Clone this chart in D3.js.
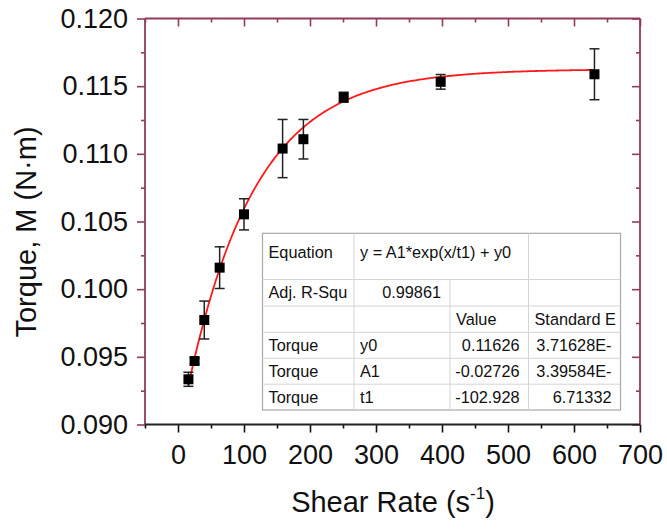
<!DOCTYPE html>
<html>
<head>
<meta charset="utf-8">
<script src="https://cdn.jsdelivr.net/npm/d3@7"></script>
<style>
  body { margin: 0; background: #fff; }
  svg { display: block; font-family: "Liberation Sans", Arial, sans-serif; }
</style>
</head>
<body>
<svg id="chart" width="667" height="529"></svg>
<script>
// measured points (shear rate, torque, error)
const shearRate = [15.8, 25.1, 39.8, 63.1, 100, 158.5, 190, 251, 398, 631]
const torque = [0.09334, 0.09469, 0.09772, 0.10159, 0.10553, 0.11039, 0.11108, 0.11418, 0.11532, 0.11588]
const torqueErr = [0.00052, 0.0002, 0.0014, 0.00154, 0.00115, 0.00215, 0.00146, 0.00037, 0.00054, 0.00188]

// fit result shown in the table
const fitNames = ['y0', 'A1', 't1']
const fitValues = [0.11626, -0.02726, -102.928]
const fitErrors = ['3.71628E-', '3.39584E-', '6.71332']
const fitValueLabels = ['0.11626', '-0.02726', '-102.928']

const xTicks = [0, 100, 200, 300, 400, 500, 600, 700]
const xMinor = [-50, 50, 150, 250, 350, 450, 550, 650]
const yTicks = [0.090, 0.095, 0.100, 0.105, 0.110, 0.115, 0.120]
const yMinor = [0.0925, 0.0975, 0.1025, 0.1075, 0.1125, 0.1175]

const frameColor = '#8f3c5c'
const svg = d3.select('#chart')

const x = d3.scaleLinear().domain([-50, 700]).range([145, 640])
const y = d3.scaleLinear().domain([0.090, 0.120]).range([424.5, 18.5])

const pLeft = x.range()[0]
const pRight = x.range()[1]
const pTop = y.range()[1]
const pBottom = y.range()[0]

// frame axes
function styleAxis (g, color) {
  g.select('.domain').remove()
  g.selectAll('.tick line').attr('stroke', color).attr('stroke-width', 1.6)
  g.selectAll('text').remove()
}

svg.append('g').attr('transform', 'translate(0,' + pTop + ')')
  .call(d3.axisBottom(x).tickValues(xTicks).tickSize(8))
  .call(g => styleAxis(g, frameColor))
svg.append('g').attr('transform', 'translate(0,' + pTop + ')')
  .call(d3.axisBottom(x).tickValues(xMinor).tickSize(4))
  .call(g => styleAxis(g, frameColor))
svg.append('g').attr('transform', 'translate(' + pRight + ',0)')
  .call(d3.axisLeft(y).tickValues(yTicks).tickSize(8))
  .call(g => styleAxis(g, frameColor))
svg.append('g').attr('transform', 'translate(' + pRight + ',0)')
  .call(d3.axisLeft(y).tickValues(yMinor).tickSize(4))
  .call(g => styleAxis(g, frameColor))

// left axis (outward ticks, labels)
const yAxis = svg.append('g').attr('transform', 'translate(' + pLeft + ',0)')
  .call(d3.axisLeft(y).tickValues(yTicks).tickSize(8).tickPadding(9).tickFormat(d3.format('.3f')))
yAxis.select('.domain').remove()
yAxis.selectAll('.tick line').attr('stroke', frameColor).attr('stroke-width', 1.6)
yAxis.selectAll('text').attr('font-size', 27).attr('fill', '#111').attr('font-family', '"Liberation Sans", Arial, sans-serif')
svg.append('g').attr('transform', 'translate(' + pLeft + ',0)')
  .call(d3.axisLeft(y).tickValues(yMinor).tickSize(4))
  .call(g => styleAxis(g, frameColor))

// bottom axis
const xAxis = svg.append('g').attr('transform', 'translate(0,' + pBottom + ')')
  .call(d3.axisBottom(x).tickValues(xTicks).tickSize(8).tickPadding(12))
xAxis.select('.domain').remove()
xAxis.selectAll('.tick line').attr('stroke', '#111').attr('stroke-width', 1.6)
xAxis.selectAll('text').attr('font-size', 27).attr('fill', '#111').attr('font-family', '"Liberation Sans", Arial, sans-serif')
svg.append('g').attr('transform', 'translate(0,' + pBottom + ')')
  .call(d3.axisBottom(x).tickValues(xMinor).tickSize(4))
  .call(g => styleAxis(g, '#111'))

// frame lines
svg.append('line').attr('x1', pLeft).attr('x2', pLeft).attr('y1', pTop).attr('y2', pBottom)
  .attr('stroke', frameColor).attr('stroke-width', 1.8)
svg.append('line').attr('x1', pRight).attr('x2', pRight).attr('y1', pTop).attr('y2', pBottom)
  .attr('stroke', frameColor).attr('stroke-width', 1.8)
svg.append('line').attr('x1', pLeft).attr('x2', pRight).attr('y1', pTop).attr('y2', pTop)
  .attr('stroke', frameColor).attr('stroke-width', 1.8)
svg.append('line').attr('x1', pLeft).attr('x2', pRight).attr('y1', pBottom).attr('y2', pBottom)
  .attr('stroke', '#222').attr('stroke-width', 1.8)

// fit table
const colX = [262.5, 354, 450, 528.5, 620.5]
const rowY = [233.3, 279.5, 306, 332.3, 358.3, 384.2, 410]
const tbl = svg.append('g').attr('font-size', 16.3).attr('fill', '#111')
tbl.append('rect').attr('x', colX[0]).attr('y', rowY[0])
  .attr('width', colX[4] - colX[0]).attr('height', rowY[6] - rowY[0])
  .attr('fill', '#fff').attr('stroke', '#a8a8a8').attr('stroke-width', 1.2)
rowY.slice(1, 6).forEach(ry => {
  tbl.append('line').attr('x1', colX[0]).attr('x2', colX[4]).attr('y1', ry).attr('y2', ry)
    .attr('stroke', '#d4d4d4')
})
tbl.append('line').attr('x1', colX[1]).attr('x2', colX[1]).attr('y1', rowY[0]).attr('y2', rowY[6]).attr('stroke', '#d4d4d4')
tbl.append('line').attr('x1', colX[2]).attr('x2', colX[2]).attr('y1', rowY[1]).attr('y2', rowY[6]).attr('stroke', '#d4d4d4')
tbl.append('line').attr('x1', colX[3]).attr('x2', colX[3]).attr('y1', rowY[0]).attr('y2', rowY[6]).attr('stroke', '#d4d4d4')

function cell (col, row, txt, align, dy) {
  const t = tbl.append('text').text(txt)
  if (align === 'end') {
    t.attr('x', colX[col + 1] - 9).attr('text-anchor', 'end')
  } else {
    t.attr('x', colX[col] + 6)
  }
  t.attr('y', dy !== undefined ? rowY[row] + dy : (rowY[row] + rowY[row + 1]) / 2 + 5.5)
}
cell(0, 0, 'Equation', 'start', 25)
cell(1, 0, 'y = A1*exp(x/t1) + y0', 'start', 25)
cell(0, 1, 'Adj. R-Squ')
cell(1, 1, '0.99861', 'end')
cell(2, 2, 'Value')
cell(3, 2, 'Standard E')
fitNames.forEach((n, i) => {
  cell(0, 3 + i, 'Torque')
  cell(1, 3 + i, n)
  cell(2, 3 + i, fitValueLabels[i], 'end')
  cell(3, 3 + i, fitErrors[i], 'end')
})

// fit curve y = A1*exp(x/t1) + y0 over the measured range
const [y0, A1, t1] = fitValues
const fitX = d3.range(shearRate[0], shearRate[shearRate.length - 1], 2).concat([shearRate[shearRate.length - 1]])
svg.append('path')
  .attr('d', d3.line().x(d => x(d)).y(d => y(A1 * Math.exp(d / t1) + y0))(fitX))
  .attr('fill', 'none').attr('stroke', '#ff1a1a').attr('stroke-width', 1.8)

// error bars and markers
const pts = svg.append('g')
shearRate.forEach((sr, i) => {
  const cx = x(sr)
  const yt = y(torque[i] + torqueErr[i])
  const yb = y(torque[i] - torqueErr[i])
  pts.append('line').attr('x1', cx).attr('x2', cx).attr('y1', yt).attr('y2', yb)
    .attr('stroke', '#222').attr('stroke-width', 1.5)
  ;[yt, yb].forEach(cy => {
    pts.append('line').attr('x1', cx - 5).attr('x2', cx + 5).attr('y1', cy).attr('y2', cy)
      .attr('stroke', '#222').attr('stroke-width', 1.5)
  })
})
pts.selectAll('rect').data(shearRate).enter().append('rect')
  .attr('x', d => x(d) - 5).attr('y', (d, i) => y(torque[i]) - 5)
  .attr('width', 10).attr('height', 10).attr('fill', '#000')

// axis titles
svg.append('text').attr('transform', 'translate(36,232) rotate(-90)')
  .attr('text-anchor', 'middle').attr('font-size', 29).attr('fill', '#111').text('Torque, M (N·m)')
const xt = svg.append('text').attr('x', 393).attr('y', 512).attr('text-anchor', 'middle').attr('font-size', 29).attr('fill', '#111')
xt.append('tspan').text('Shear Rate (s')
xt.append('tspan').attr('font-size', 17).attr('dy', -13).text('-1')
xt.append('tspan').attr('dy', 13).text(')')
</script>
</body>
</html>
